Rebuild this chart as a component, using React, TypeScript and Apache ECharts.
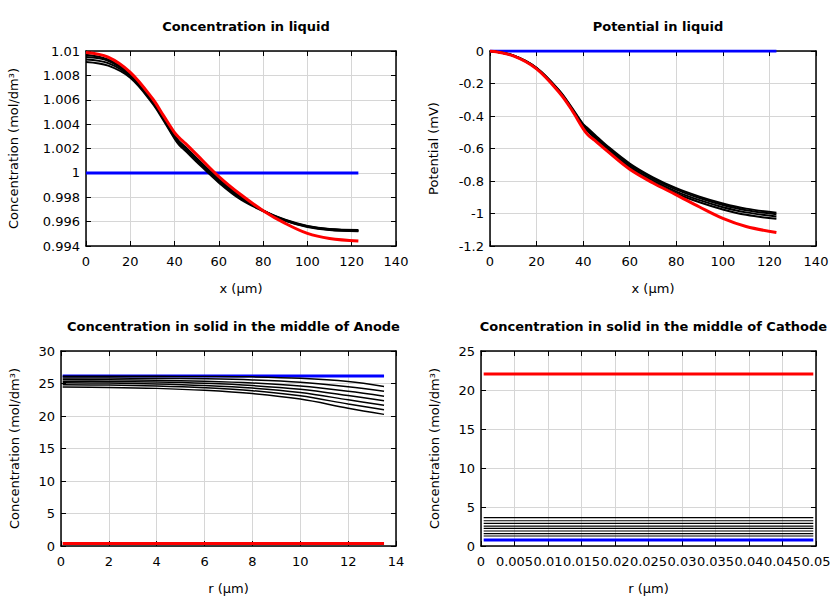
import React, { useEffect, useRef } from "react";
import * as echarts from "echarts";

// ---------- Data ----------
// Top charts: positions along x (µm)
const X_LIQ = [0, 10, 20, 30, 35, 40, 42, 45, 50, 60, 70, 80, 90, 100, 110, 123];

// Concentration in liquid (mol/dm3)
const CL_BLUE = [1.0, 1.0];
const CL_BLUE_X = [0, 123];
const CL_BLACK_1 = [1.0097, 1.0093, 1.0081, 1.006, 1.0046, 1.0031, 1.0026, 1.0021, 1.0012, 0.9995, 0.9981, 0.99692, 0.99615, 0.99565, 0.9954, 0.99532];
const CL_BLACK_2 = [1.0095, 1.0092, 1.008, 1.0059, 1.0045, 1.003, 1.0025, 1.002, 1.0011, 0.9994, 0.998, 0.9969, 0.99612, 0.99562, 0.99537, 0.99528];
const CL_BLACK_3 = [1.0093, 1.009, 1.0079, 1.0058, 1.0044, 1.0029, 1.0024, 1.0019, 1.001, 0.9993, 0.9979, 0.99688, 0.99609, 0.99559, 0.99534, 0.99524];
const CL_BLACK_4 = [1.0091, 1.0088, 1.0078, 1.0057, 1.0043, 1.0028, 1.0023, 1.0018, 1.0009, 0.9992, 0.9978, 0.99686, 0.99606, 0.99556, 0.99531, 0.9952];
const CL_RED = [1.00988, 1.0095, 1.00825, 1.0061, 1.0047, 1.0033, 1.0029, 1.0024, 1.0015, 0.9997, 0.9982, 0.9969, 0.99585, 0.99503, 0.99462, 0.99441];

// Potential in liquid (mV)
const PL_BLUE = [0, 0];
const PL_BLUE_X = [0, 123];
const PL_BLACK_1 = [0, -0.027, -0.103, -0.247, -0.345, -0.45, -0.475, -0.515, -0.58, -0.692, -0.777, -0.844, -0.896, -0.938, -0.97, -0.995];
const PL_BLACK_2 = [0, -0.028, -0.105, -0.25, -0.35, -0.455, -0.48, -0.522, -0.587, -0.7, -0.785, -0.853, -0.905, -0.948, -0.98, -1.005];
const PL_BLACK_3 = [0, -0.029, -0.107, -0.253, -0.354, -0.46, -0.487, -0.53, -0.595, -0.71, -0.796, -0.865, -0.918, -0.961, -0.993, -1.018];
const PL_BLACK_4 = [0, -0.03, -0.109, -0.256, -0.358, -0.465, -0.494, -0.538, -0.604, -0.72, -0.807, -0.877, -0.931, -0.975, -1.008, -1.033];
const PL_RED = [0, -0.03, -0.11, -0.26, -0.36, -0.478, -0.515, -0.55, -0.612, -0.728, -0.812, -0.885, -0.96, -1.03, -1.08, -1.117];

// Anode solid (r in µm)
const R_AN = [0.07, 2, 4, 6, 8, 10, 12, 13.5];
const AN_BLUE = [26.15, 26.15];
const AN_RED = [0.4, 0.4];
const AN_FLAT_X = [0.07, 13.5];
const AN_BLACK = [
  [26.1, 26.1, 26.1, 26.08, 26.02, 25.8, 25.3, 24.55],
  [25.85, 25.84, 25.8, 25.72, 25.55, 25.2, 24.5, 23.8],
  [25.6, 25.58, 25.5, 25.35, 25.08, 24.6, 23.8, 23.05],
  [25.35, 25.32, 25.22, 25.02, 24.68, 24.1, 23.15, 22.35],
  [25.1, 25.06, 24.94, 24.7, 24.3, 23.6, 22.5, 21.65],
  [24.8, 24.76, 24.62, 24.35, 23.9, 23.1, 21.85, 20.95],
  [24.45, 24.4, 24.25, 23.95, 23.45, 22.6, 21.2, 20.25],
];

// Cathode solid (r in µm)
const CA_X = [0.0004, 0.0496];
const CA_RED = 22.05;
const CA_BLUE = 0.78;
const CA_BLACK = [3.63, 3.24, 2.91, 2.56, 2.27, 1.92, 1.58, 1.28];

// Titles / labels
const TITLES = [
  "Concentration in liquid",
  "Potential in liquid",
  "Concentration in solid in the middle of Anode",
  "Concentration in solid in the middle of Cathode",
];
const X_NAMES = ["x (\u03bcm)", "x (\u03bcm)", "r (\u03bcm)", "r (\u03bcm)"];
const Y_NAMES = ["Concentration (mol/dm\u00b3)", "Potential (mV)", "Concentration (mol/dm\u00b3)", "Concentration (mol/dm\u00b3)"];

const FONT = "DejaVu Sans";
const pairs = (xs: number[], ys: number[]) => xs.map((x, i) => [x, ys[i]]);
const fmt = (v: number) => String(parseFloat(v.toFixed(5)));

const GRIDS = [
  { left: 86, top: 51, width: 310, height: 195 },
  { left: 490, top: 51, width: 326, height: 195 },
  { left: 61, top: 351, width: 335, height: 195 },
  { left: 481, top: 351, width: 335, height: 195 },
];

export default function App() {
  const ref = useRef<HTMLDivElement>(null);
  useEffect(() => {
    document.body.style.margin = "0";
    const chart = echarts.init(ref.current!, null, { renderer: "svg" });

    const AX = [
      { x: [0, 140, 20], y: [0.994, 1.01, 0.002], yGap: 66 },
      { x: [0, 140, 20], y: [-1.2, 0, 0.2], yGap: 50 },
      { x: [0, 14, 2], y: [0, 30, 5], yGap: 40 },
      { x: [0, 0.05, 0.005], y: [0, 25, 5], yGap: 40 },
    ];

    const xAxis: any[] = [];
    const yAxis: any[] = [];
    AX.forEach((a, g) => {
      const common = {
        gridIndex: g,
        type: "value",
        axisLine: { show: true, onZero: false, lineStyle: { color: "#000", width: 1.5 } },
        axisTick: { show: true, inside: true, length: 5, lineStyle: { color: "#000", width: 1 } },
      };
      xAxis.push({
        ...common,
        position: "bottom",
        min: a.x[0],
        max: a.x[1],
        interval: a.x[2],
        name: X_NAMES[g],
        nameLocation: "middle",
        nameGap: 36,
        nameTextStyle: { fontFamily: FONT, fontSize: 13, color: "#000" },
        axisLabel: { fontFamily: FONT, fontSize: 13, color: "#000", margin: 9, formatter: fmt },
        splitLine: { show: true, lineStyle: { color: "#d6d6d6", width: 1 } },
      });
      xAxis.push({
        ...common,
        position: "top",
        min: a.x[0],
        max: a.x[1],
        interval: a.x[2],
        axisLabel: { show: false },
        splitLine: { show: false },
      });
      yAxis.push({
        ...common,
        position: "left",
        min: a.y[0],
        max: a.y[1],
        interval: a.y[2],
        name: Y_NAMES[g],
        nameLocation: "middle",
        nameGap: a.yGap,
        nameRotate: 90,
        nameTextStyle: { fontFamily: FONT, fontSize: 13, color: "#000" },
        axisLabel: { fontFamily: FONT, fontSize: 13, color: "#000", margin: 6, formatter: fmt },
        splitLine: { show: true, lineStyle: { color: "#d6d6d6", width: 1 } },
      });
      yAxis.push({
        ...common,
        position: "right",
        min: a.y[0],
        max: a.y[1],
        interval: a.y[2],
        axisLabel: { show: false },
        splitLine: { show: false },
      });
    });

    const line = (g: number, data: number[][], color: string, width: number, smooth = true) => ({
      type: "line",
      xAxisIndex: g * 2,
      yAxisIndex: g * 2,
      data,
      showSymbol: false,
      symbol: "none",
      smooth: smooth ? 0.35 : false,
      lineStyle: { color, width },
      silent: true,
    });

    const series: any[] = [];
    // Top-left
    series.push(line(0, pairs(CL_BLUE_X, CL_BLUE), "#0000ff", 3, false));
    [CL_BLACK_1, CL_BLACK_2, CL_BLACK_3, CL_BLACK_4].forEach((s) => series.push(line(0, pairs(X_LIQ, s), "#000", 2)));
    series.push(line(0, pairs(X_LIQ, CL_RED), "#ff0000", 3));
    // Top-right
    series.push(line(1, pairs(PL_BLUE_X, PL_BLUE), "#0000ff", 3, false));
    [PL_BLACK_1, PL_BLACK_2, PL_BLACK_3, PL_BLACK_4].forEach((s) => series.push(line(1, pairs(X_LIQ, s), "#000", 2)));
    series.push(line(1, pairs(X_LIQ, PL_RED), "#ff0000", 3));
    // Bottom-left
    series.push(line(2, pairs(AN_FLAT_X, AN_BLUE), "#0000ff", 3, false));
    series.push(line(2, pairs(AN_FLAT_X, AN_RED), "#ff0000", 3, false));
    AN_BLACK.forEach((s) => series.push(line(2, pairs(R_AN, s), "#000", 1.5)));
    // Bottom-right
    series.push(line(3, pairs(CA_X, [CA_RED, CA_RED]), "#ff0000", 3, false));
    CA_BLACK.forEach((v) => series.push(line(3, pairs(CA_X, [v, v]), "#000", 1.2, false)));
    series.push(line(3, pairs(CA_X, [CA_BLUE, CA_BLUE]), "#0000ff", 3, false));

    const title = GRIDS.map((gr, i) => ({
      text: TITLES[i],
      left: gr.left + gr.width / 2,
      top: i < 2 ? 15 : 315,
      textAlign: "center",
      textStyle: { fontFamily: FONT, fontSize: 13, fontWeight: "bold", color: "#000" },
    }));

    chart.setOption({
      animation: false,
      backgroundColor: "#fff",
      title,
      grid: GRIDS.map((g) => ({ ...g, containLabel: false })),
      xAxis,
      yAxis,
      series,
    });
    return () => chart.dispose();
  }, []);
  return <div ref={ref} style={{ width: 840, height: 600 }} />;
}
